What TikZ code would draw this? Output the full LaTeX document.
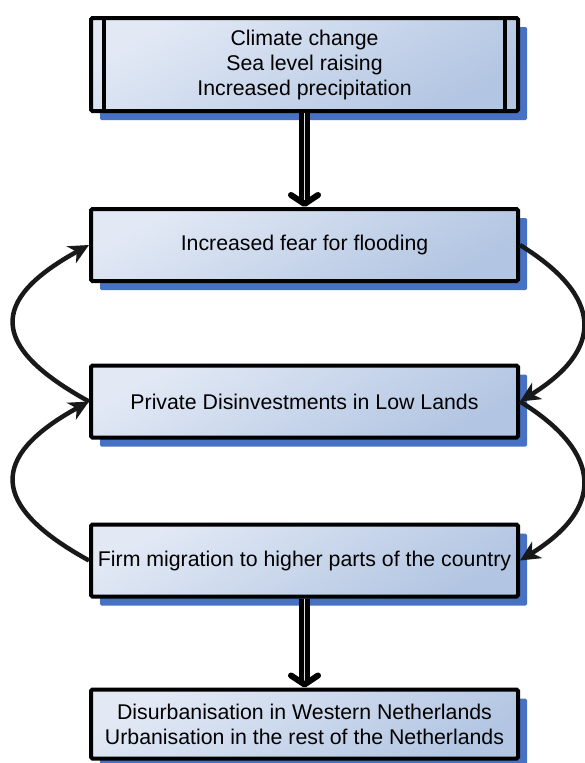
\documentclass[tikz,border=0pt]{standalone}
\usepackage{fontspec}
\setmainfont{Liberation Sans}
\usepackage{tikz}
\usetikzlibrary{arrows.meta, positioning, shadows}
\definecolor{boxlight}{RGB}{226,233,245}
\definecolor{boxdark}{RGB}{178,197,226}
\definecolor{shadowblue}{RGB}{71,114,196}
\tikzstyle{block} = [draw=black, line width=4pt, rounded corners=1.5pt, minimum width=427pt, minimum height=72pt, inner sep=0pt, align=center, font=\fontsize{21.3}{25}\selectfont, top color=boxlight, bottom color=boxdark, shading angle=30, drop shadow={shadow xshift=9pt, shadow yshift=-9pt, fill=shadowblue, opacity=1}]
\tikzstyle{cyclearrow} = [line width=4.5pt, black!90, -{Stealth[length=20pt, width=19pt, inset=6pt]}]
\tikzstyle{fatarrow} = [line width=5pt, double=gray!25, double distance=1.2pt, -{Straight Barb[length=9pt, width=27pt, line width=6pt, round]}]

\begin{document}
\begin{tikzpicture}[x=1pt, y=-1pt]
    \useasboundingbox (0,0) rectangle (585,763);
    % the five boxes, top to bottom
    \node[block, minimum height=93pt] (cause) at (304.5,64.5) {Climate change\\Sea level raising\\Increased precipitation};
    \node[block] (fear) at (304.5,245) {Increased fear for flooding};
    \node[block] (disinvest) at (304.5,401.5) {Private Disinvestments in Low Lands};
    \node[block] (migration) at (304.5,560.5) {Firm migration to higher parts of the country};
    \node[block, minimum height=69pt] (urban) at (304.5,724) {Disurbanisation in Western Netherlands\\Urbanisation in the rest of the Netherlands};

    % inner bars of the first box
    \draw[line width=4pt] ([xshift=15pt]cause.north west) -- ([xshift=15pt]cause.south west);
    \draw[line width=4pt] ([xshift=-15pt]cause.north east) -- ([xshift=-15pt]cause.south east);

    % straight arrows
    \draw[fatarrow] (cause) -- (fear);
    \draw[fatarrow] (migration) -- (urban);

    % feedback loops on the left
    \draw[cyclearrow] (disinvest.west) .. controls +(-100,-55) and +(-100,55) .. (fear.west);
    \draw[cyclearrow] (migration.west) .. controls +(-100,-55) and +(-100,55) .. (disinvest.west);
    % and on the right
    \draw[cyclearrow] (fear.east) .. controls +(84,52) and +(84,-52) .. (disinvest.east);
    \draw[cyclearrow] (disinvest.east) .. controls +(84,52) and +(84,-52) .. (migration.east);
\end{tikzpicture}
\end{document}
